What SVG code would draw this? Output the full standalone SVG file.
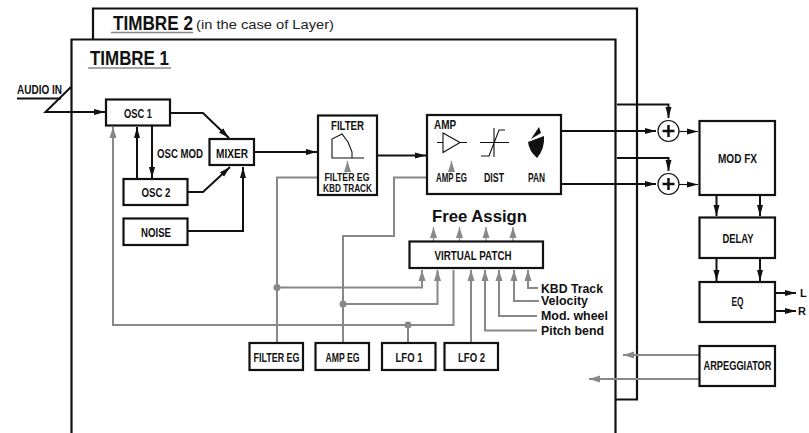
<svg xmlns="http://www.w3.org/2000/svg" width="809" height="433" viewBox="0 0 809 433">
<style>
text{font-family:"Liberation Sans",Arial,sans-serif;font-weight:bold;fill:#111}
.n{font-size:12.500px;text-anchor:middle}
.s{font-size:12.500px}
.box{fill:#fff;stroke:#111;stroke-width:2.200}
.k{fill:none;stroke:#111;stroke-width:2}
.g{fill:none;stroke:#888;stroke-width:2}
.v{fill:none;stroke:#888;stroke-width:1.200}
.t{fill:none;stroke:#111;stroke-width:1.100}
</style>
<defs>
<marker id="ak" markerUnits="userSpaceOnUse" markerWidth="12" markerHeight="8" refX="11" refY="4" orient="auto"><path d="M0 1L11 4L0 7z" fill="#111"/></marker>
<marker id="ag" markerUnits="userSpaceOnUse" markerWidth="12" markerHeight="9" refX="11" refY="4.500" orient="auto"><path d="M0 1L11 4.500L0 8z" fill="#888"/></marker>
</defs>
<g id="timbre2">
<path d="M93 39V8.500H637V399.500H615" fill="none" stroke="#111" stroke-width="2.200"/>
<text transform="translate(113 30) scale(.836 1)" font-size="20.500">TIMBRE 2</text>
<path d="M111 32.500H193" stroke="#888" stroke-width="1.500"/>
<text x="196" y="28.500" font-size="13" textLength="138" lengthAdjust="spacingAndGlyphs" style="font-weight:normal;fill:#222">(in the case of Layer)</text>
</g>
<g id="timbre1">
<path d="M71.500 433V39.500H615.500V433" fill="none" stroke="#111" stroke-width="2.200"/>
<text x="90" y="65" font-size="20" textLength="79" lengthAdjust="spacingAndGlyphs">TIMBRE 1</text>
<path d="M88 68H171" stroke="#888" stroke-width="1.500"/>
</g>
<g id="connectors">
<path class="k" d="M17 98.500H61"/>
<path class="k" d="M71 87L45.500 112H105" marker-end="url(#ak)"/>
<path class="k" d="M170 113H203L229 138" marker-end="url(#ak)"/>
<path class="k" d="M187 192H203L230 167" marker-end="url(#ak)"/>
<path class="k" d="M188 231H243V167" marker-end="url(#ak)"/>
<path class="k" d="M152 125V178" marker-end="url(#ak)"/>
<path class="k" d="M137 179V127" marker-end="url(#ak)"/>
<path class="k" d="M254 152H317" marker-end="url(#ak)"/>
<path class="k" d="M377 155.500H426" marker-end="url(#ak)"/>
<path class="k" d="M561 131H656" marker-end="url(#ak)"/>
<path class="k" d="M561 184H656" marker-end="url(#ak)"/>
<path class="k" d="M617 104.500H668.500V118" marker-end="url(#ak)"/>
<path class="k" d="M617 158H668.500V171" marker-end="url(#ak)"/>
<path class="t" d="M679 131.500H698" marker-end="url(#ak)"/>
<path class="t" d="M679 184.500H698" marker-end="url(#ak)"/>
<path class="k" d="M716.500 195V216" marker-end="url(#ak)"/>
<path class="k" d="M760 195V216" marker-end="url(#ak)"/>
<path class="k" d="M716.500 258V281" marker-end="url(#ak)"/>
<path class="k" d="M760 258V281" marker-end="url(#ak)"/>
<path class="k" d="M775 293H796" marker-end="url(#ak)"/>
<path class="k" d="M775 311H796" marker-end="url(#ak)"/>
<path class="g" d="M699 355H623" marker-end="url(#ag)"/>
<path class="g" d="M699 379H589" marker-end="url(#ag)"/>
<path class="g" d="M453.500 270V325H113V127" marker-end="url(#ag)"/>
<path class="g" d="M408 325V343"/>
<path class="g" d="M277 343V177.500H323"/>
<path class="g" d="M277 287.500H422V270" marker-end="url(#ag)"/>
<path class="g" d="M343 343V236H394V177.500H434"/>
<path class="g" d="M343 304H437.500V270" marker-end="url(#ag)"/>
<path class="g" d="M471 343V270" marker-end="url(#ag)"/>
<path class="g" d="M537 330.500H485V270" marker-end="url(#ag)"/>
<path class="g" d="M537 316H499V270" marker-end="url(#ag)"/>
<path class="g" d="M539 301H514V270" marker-end="url(#ag)"/>
<path class="g" d="M538 288H528V270" marker-end="url(#ag)"/>
<path class="v" d="M433.500 241V227" marker-end="url(#ag)"/>
<path class="v" d="M459.500 241V227" marker-end="url(#ag)"/>
<path class="v" d="M486 241V227" marker-end="url(#ag)"/>
<path class="v" d="M513 241V227" marker-end="url(#ag)"/>
<circle cx="277" cy="287.500" r="3.500" fill="#888"/>
<circle cx="343" cy="304" r="3.500" fill="#888"/>
<circle cx="408" cy="325" r="3.500" fill="#888"/>
</g>
<g id="audio-in"><text x="17" y="94" font-size="12" textLength="45" lengthAdjust="spacingAndGlyphs">AUDIO IN</text></g>
<g id="osc1"><rect class="box" x="106" y="99.500" width="64" height="26"/><text class="n" x="138" y="118" textLength="28" lengthAdjust="spacingAndGlyphs">OSC 1</text></g>
<g id="mixer"><rect class="box" x="209.500" y="139" width="44.500" height="26"/><text class="n" x="232" y="157.500" textLength="32" lengthAdjust="spacingAndGlyphs">MIXER</text></g>
<g id="osc2"><rect class="box" x="123.500" y="179" width="64" height="26"/><text class="n" x="156" y="197" textLength="29" lengthAdjust="spacingAndGlyphs">OSC 2</text></g>
<g id="noise"><rect class="box" x="123.500" y="218.500" width="64" height="26.500"/><text class="n" x="156" y="236.500" textLength="30" lengthAdjust="spacingAndGlyphs">NOISE</text></g>
<g id="osc-mod"><text x="157" y="158" font-size="12.500" textLength="46" lengthAdjust="spacingAndGlyphs">OSC MOD</text></g>
<g id="filter">
<rect class="box" x="318" y="115.500" width="59" height="79.500"/>
<text class="n" x="347.500" y="129.500" style="font-size:13.500px" textLength="33" lengthAdjust="spacingAndGlyphs">FILTER</text>
<path class="t" d="M364 158H332V139L342 134L348 142L352 152V158"/>
<path class="v" d="M347.500 172V161" marker-end="url(#ag)"/>
<text class="n" x="347" y="181" style="font-size:10px" textLength="45" lengthAdjust="spacingAndGlyphs">FILTER EG</text>
<text class="n" x="347.500" y="192" style="font-size:10px" textLength="49" lengthAdjust="spacingAndGlyphs">KBD TRACK</text>
</g>
<g id="amp">
<rect class="box" x="427" y="115" width="134" height="79"/>
<text x="434" y="129" font-size="13.500" textLength="22" lengthAdjust="spacingAndGlyphs">AMP</text>
<path class="t" d="M437 142.500H443M443 133V152.500L460 142.500ZM460 142.500H467"/>
<path class="v" d="M451.500 172V161" marker-end="url(#ag)"/>
<text class="n" x="451.500" y="181.500" textLength="31" lengthAdjust="spacingAndGlyphs">AMP EG</text>
<path class="t" d="M480 142.500H509M494 128V157M481 156H489L499 130H505"/>
<text class="n" x="494" y="181.500" textLength="20" lengthAdjust="spacingAndGlyphs">DIST</text>
<path d="M539 127L541 133L531 139ZM528 142L544 136Q545 149 537 158Q529 151 528 142Z" fill="#111"/>
<text class="n" x="536.500" y="181.500" textLength="17" lengthAdjust="spacingAndGlyphs">PAN</text>
</g>
<g id="sum1"><circle cx="668.500" cy="131" r="10.500" fill="#fff" stroke="#111" stroke-width="1.200"/><path d="M668.500 125V137M662.500 131H674.500" stroke="#111" stroke-width="2.500"/></g>
<g id="sum2"><circle cx="668.500" cy="184" r="10.500" fill="#fff" stroke="#111" stroke-width="1.200"/><path d="M668.500 178V190M662.500 184H674.500" stroke="#111" stroke-width="2.500"/></g>
<g id="mod-fx"><rect class="box" x="699.500" y="121" width="75.500" height="74"/><text class="n" x="737.500" y="163" textLength="39" lengthAdjust="spacingAndGlyphs">MOD FX</text></g>
<g id="delay"><rect class="box" x="699.500" y="217.500" width="75.500" height="40.500"/><text class="n" x="738" y="243" textLength="31" lengthAdjust="spacingAndGlyphs">DELAY</text></g>
<g id="eq"><rect class="box" x="699.500" y="282" width="75.500" height="40"/><text class="n" x="737.500" y="306" textLength="12" lengthAdjust="spacingAndGlyphs">EQ</text></g>
<g id="arpeggiator"><rect class="box" x="699.500" y="346" width="75.500" height="40"/><text class="n" x="737.500" y="370" textLength="68" lengthAdjust="spacingAndGlyphs">ARPEGGIATOR</text></g>
<g id="out-l"><text x="800" y="297" font-size="11">L</text></g>
<g id="out-r"><text x="798" y="315" font-size="11">R</text></g>
<g id="virtual-patch"><rect class="box" x="409.500" y="241.500" width="133.500" height="26.500"/><text class="n" x="473" y="260" textLength="77" lengthAdjust="spacingAndGlyphs">VIRTUAL PATCH</text></g>
<g id="free-assign"><text x="432" y="222" font-size="16.500" textLength="95" lengthAdjust="spacingAndGlyphs">Free Assign</text></g>
<g id="labels">
<text class="s" x="541" y="292.500" textLength="62" lengthAdjust="spacingAndGlyphs">KBD Track</text>
<text class="s" x="541" y="305" textLength="47" lengthAdjust="spacingAndGlyphs">Velocity</text>
<text class="s" x="541" y="320" textLength="67" lengthAdjust="spacingAndGlyphs">Mod. wheel</text>
<text class="s" x="541" y="335" textLength="63" lengthAdjust="spacingAndGlyphs">Pitch bend</text>
</g>
<g id="filter-eg"><rect class="box" x="249.500" y="343" width="53.500" height="27"/><text class="n" x="276.500" y="361.500" textLength="46" lengthAdjust="spacingAndGlyphs">FILTER EG</text></g>
<g id="amp-eg"><rect class="box" x="315.500" y="343" width="53.500" height="27"/><text class="n" x="342.500" y="361.500" textLength="34" lengthAdjust="spacingAndGlyphs">AMP EG</text></g>
<g id="lfo1"><rect class="box" x="382" y="343" width="53.500" height="27"/><text class="n" x="409" y="362" textLength="27" lengthAdjust="spacingAndGlyphs">LFO 1</text></g>
<g id="lfo2"><rect class="box" x="444.500" y="343" width="53.500" height="27"/><text class="n" x="471.500" y="362" textLength="27" lengthAdjust="spacingAndGlyphs">LFO 2</text></g>
</svg>
